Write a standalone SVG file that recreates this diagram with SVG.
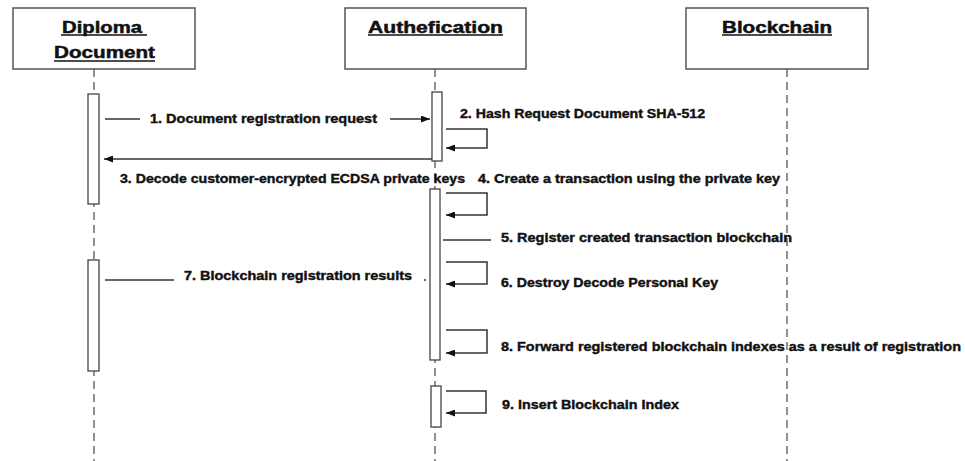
<svg xmlns="http://www.w3.org/2000/svg" width="965" height="461" viewBox="0 0 965 461">
<style>
.box{fill:#fff;stroke:#555;stroke-width:1.5}
.life{stroke:#555;stroke-width:1.3;stroke-dasharray:8 5;fill:none}
.act{fill:#fff;stroke:#444;stroke-width:1.3}
.msg{stroke:#333;stroke-width:1.5;fill:none}
.hd{font-family:"Liberation Sans",Arial,sans-serif;font-weight:bold;font-size:17px;fill:#111;stroke:#111;stroke-width:0.5}
.ul{stroke:#111;stroke-width:1.5}
.lb{font-family:"Liberation Sans",Arial,sans-serif;font-weight:bold;font-size:12.5px;fill:#111;stroke:#111;stroke-width:0.4}
</style>
<defs>
<marker id="ah" markerWidth="9" markerHeight="7" refX="9" refY="3.5" orient="auto" markerUnits="userSpaceOnUse">
<path d="M0,0 L9,3.5 L0,7 z" fill="#111"/>
</marker>
</defs>
<g id="diploma">
<rect class="box" x="13" y="8" width="182" height="61"/>
<text class="hd" x="62" y="33" textLength="80" lengthAdjust="spacingAndGlyphs">Diploma</text>
<line class="ul" x1="61" y1="35" x2="147" y2="35"/>
<text class="hd" x="54" y="58" textLength="101" lengthAdjust="spacingAndGlyphs">Document</text>
<line class="ul" x1="54" y1="61" x2="155" y2="61"/>
<line class="life" x1="94" y1="69" x2="94" y2="461"/>
<rect class="act" x="88" y="94" width="11" height="110"/>
<rect class="act" x="88" y="260" width="11" height="111"/>
</g>
<g id="auth">
<rect class="box" x="345" y="8" width="181" height="61"/>
<text class="hd" x="368" y="33" textLength="135" lengthAdjust="spacingAndGlyphs">Authefication</text>
<line class="ul" x1="368" y1="35" x2="503" y2="35"/>
<line class="life" x1="435" y1="69" x2="435" y2="461"/>
<rect class="act" x="432" y="92" width="10" height="69"/>
<rect class="act" x="430" y="189" width="10" height="171"/>
<rect class="act" x="431" y="386" width="10" height="41"/>
</g>
<g id="blockchain">
<rect class="box" x="686" y="8" width="182" height="61"/>
<text class="hd" x="722" y="33" textLength="110" lengthAdjust="spacingAndGlyphs">Blockchain</text>
<line class="ul" x1="722" y1="35" x2="832" y2="35"/>
<line class="life" x1="787" y1="69" x2="787" y2="461"/>
</g>
<g id="connectors">
<line class="msg" x1="105" y1="119" x2="140" y2="119"/>
<line class="msg" x1="390" y1="119" x2="430" y2="119" marker-end="url(#ah)"/>
<path class="msg" d="M446,129 H487 V148 H446" marker-end="url(#ah)"/>
<line class="msg" x1="432" y1="159" x2="104" y2="159" marker-end="url(#ah)"/>
<path class="msg" d="M446,193 H487 V215 H446" marker-end="url(#ah)"/>
<line class="msg" x1="443" y1="240" x2="491" y2="240"/>
<path class="msg" d="M446,262 H487 V284 H446" marker-end="url(#ah)"/>
<line class="msg" x1="105" y1="280" x2="174" y2="280"/>
<circle cx="425" cy="280" r="1" fill="#333"/>
<path class="msg" d="M446,330 H487 V353 H446" marker-end="url(#ah)"/>
<path class="msg" d="M446,391 H486 V413 H446" marker-end="url(#ah)"/>
</g>
<g id="labels">
<text class="lb" x="150" y="123" textLength="227" lengthAdjust="spacingAndGlyphs">1. Document registration request</text>
<text class="lb" x="460" y="118" textLength="245" lengthAdjust="spacingAndGlyphs">2. Hash Request Document SHA-512</text>
<text class="lb" x="120" y="183" textLength="345" lengthAdjust="spacingAndGlyphs">3. Decode customer-encrypted ECDSA private keys</text>
<text class="lb" x="478" y="183" textLength="302" lengthAdjust="spacingAndGlyphs">4. Create a transaction using the private key</text>
<text class="lb" x="501" y="242" textLength="291" lengthAdjust="spacingAndGlyphs">5. Register created transaction blockchain</text>
<text class="lb" x="501" y="287" textLength="217" lengthAdjust="spacingAndGlyphs">6. Destroy Decode Personal Key</text>
<text class="lb" x="184" y="280" textLength="228" lengthAdjust="spacingAndGlyphs">7. Blockchain registration results</text>
<text class="lb" x="501" y="351" textLength="460" lengthAdjust="spacingAndGlyphs">8. Forward registered blockchain indexes as a result of registration</text>
<text class="lb" x="502" y="409" textLength="177" lengthAdjust="spacingAndGlyphs">9. Insert Blockchain Index</text>
</g>
</svg>
